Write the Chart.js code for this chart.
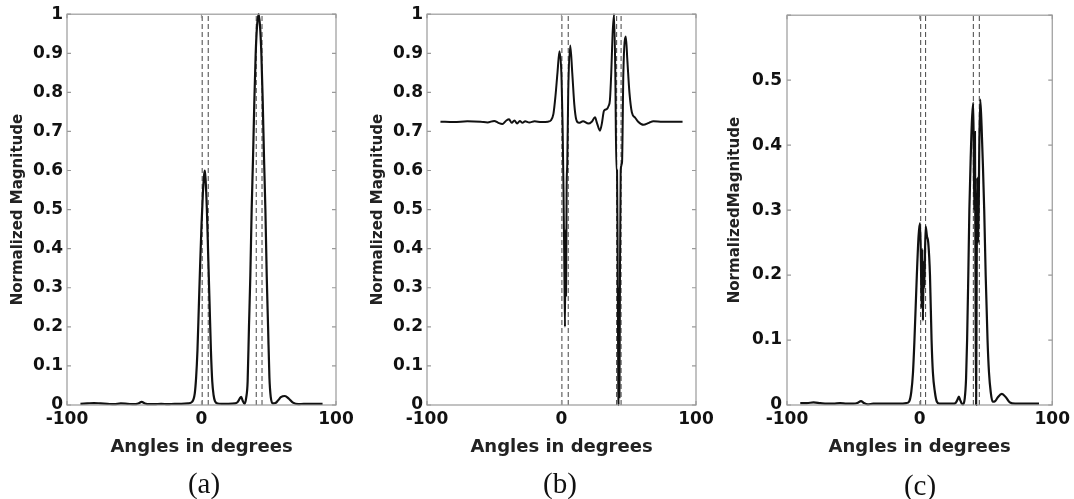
<!DOCTYPE html>
<html>
<head>
<meta charset="utf-8">
<title>Normalized magnitude vs angle</title>
<script src="https://cdn.jsdelivr.net/npm/chart.js@4.4.1/dist/chart.umd.min.js"></script>
<style>
  body { margin: 0; background: #fff; width: 1074px; height: 499px; position: relative; overflow: hidden; }
  canvas { position: absolute; top: 0; }
  .caption { position: absolute; font-family: "Liberation Serif", "Times New Roman", serif; font-size: 29px; color: #111; transform: translate(-50%, -50%); }
</style>
</head>
<body>
<canvas id="chartA" width="360" height="470" style="left:0"></canvas>
<canvas id="chartB" width="360" height="470" style="left:360px"></canvas>
<canvas id="chartC" width="354" height="470" style="left:720px"></canvas>
<div class="caption" style="left:204px;top:483px">(a)</div>
<div class="caption" style="left:560px;top:483px">(b)</div>
<div class="caption" style="left:920px;top:485px">(c)</div>
<script>
// ---- data ----
const xTicks = [-100, 0, 100];

// (a)
const anglesA = [-90, -85, -80, -75, -70, -65, -60, -55, -50, -47, -44.5, -42, -39, -35, -30, -25, -20, -15, -10, -7,
  -5, -4, -3, -2, -1, 0, 1, 2, 2.5, 3, 4, 5, 6, 7, 8, 9, 10, 12, 15, 20, 25, 27, 28.5, 29.5, 30.5, 32,
  33.3, 34.3, 35.3, 36.3, 37.3, 38.3, 39.3, 40.3, 41.3, 42.5, 43.5, 44.5, 45.5, 46.5, 47.5, 48.5, 49.5, 50.5, 51.5, 53,
  55, 57, 59, 62, 65, 68, 72, 76, 80, 85, 90];
const magA = [0.003, 0.004, 0.005, 0.004, 0.003, 0.002, 0.004, 0.003, 0.002, 0.004, 0.008, 0.004, 0.002, 0.002, 0.003, 0.002, 0.003, 0.003, 0.004, 0.008,
  0.03, 0.07, 0.14, 0.25, 0.36, 0.46, 0.54, 0.59, 0.6, 0.58, 0.5, 0.38, 0.26, 0.14, 0.06, 0.025, 0.01, 0.004, 0.003, 0.003, 0.004, 0.008, 0.017, 0.021, 0.012, 0.003,
  0.02, 0.06, 0.2, 0.33, 0.5, 0.63, 0.78, 0.9, 0.97, 1.0, 0.97, 0.9, 0.78, 0.63, 0.5, 0.33, 0.2, 0.07, 0.02, 0.004,
  0.005, 0.012, 0.02, 0.023, 0.016, 0.006, 0.002, 0.003, 0.003, 0.003, 0.003];
const markersA = [0.5, 5, 40.7, 45];

// (b)
const anglesB = [-90, -80, -70, -60, -55, -50, -47, -44, -41, -39, -37, -35, -33, -31, -29, -27, -24, -20, -15, -10, -8,
  -6, -4.5, -3, -1.5, 0, 0.8, 1.5, 2.1, 2.6, 3.0, 3.4, 3.8, 4.3, 5, 6.5, 8, 9.5, 11, 13, 16, 20, 22.5, 24.9, 26.5, 28.6, 30, 31.6, 33.6, 35, 36,
  37, 38, 39.1, 40, 40.8, 41.3, 41.8, 42.2, 42.5, 42.8, 43.1, 43.5, 44, 45, 46, 47.8, 49, 50.5, 52.3, 54.8, 57, 60.9, 65, 68.3, 75, 80, 90];
const magB = [0.725, 0.724, 0.726, 0.725, 0.723, 0.727, 0.722, 0.719, 0.728, 0.731, 0.722, 0.728, 0.72, 0.727, 0.722, 0.726, 0.723, 0.726, 0.724, 0.725, 0.728,
  0.745, 0.79, 0.85, 0.905, 0.84, 0.72, 0.55, 0.35, 0.2, 0.45, 0.28, 0.55, 0.62, 0.8, 0.92, 0.85, 0.77, 0.73, 0.722, 0.726, 0.72, 0.725, 0.736, 0.72, 0.702, 0.72, 0.753, 0.757, 0.765, 0.78,
  0.85, 0.95, 1.0, 0.85, 0.6, 0.6, 0.35, 0.05, 0.0, 0.3, 0.02, 0.35, 0.6, 0.62, 0.85, 0.943, 0.88, 0.8, 0.749, 0.735, 0.725, 0.717, 0.722, 0.726, 0.725, 0.725, 0.725];
const markersB = [0.3, 5, 41, 44.3];

// (c)
const anglesC = [-90, -85, -80, -75, -70, -65, -60, -55, -50, -47, -44.2, -42, -39, -35, -30, -25, -20, -15, -10, -8,
  -6.3, -5, -3.9, -2.1, -0.8, 0.3, 1, 1.5, 2, 2.5, 3, 3.5, 4.5, 5.5, 6.5, 7.8, 9, 10, 11.5, 13, 15, 20, 25, 27, 28.5, 29.6, 30.5, 31.5, 32.6,
  34, 35, 35.8, 36.7, 37.5, 38.5, 39.5, 40.5, 41.2, 41.7, 42.2, 42.6, 43, 43.5, 44.2, 45, 45.7, 46.7, 47.7, 48.7, 49.8, 51.2, 52.3, 53.6, 55,
  57, 59, 62, 65, 68, 72, 76, 80, 85, 90];
const magC = [0.003, 0.003, 0.004, 0.003, 0.002, 0.002, 0.003, 0.002, 0.002, 0.003, 0.006, 0.003, 0.001, 0.002, 0.002, 0.002, 0.002, 0.002, 0.003, 0.005,
  0.02, 0.05, 0.1, 0.2, 0.26, 0.28, 0.22, 0.15, 0.24, 0.13, 0.22, 0.18, 0.275, 0.26, 0.25, 0.2, 0.1, 0.05, 0.02, 0.005, 0.002, 0.002, 0.002, 0.003, 0.008, 0.013, 0.008, 0.003, 0.001,
  0.01, 0.04, 0.1, 0.2, 0.3, 0.38, 0.44, 0.465, 0.3, 0.42, 0.15, 0.0, 0.2, 0.35, 0.25, 0.4, 0.47, 0.43, 0.37, 0.3, 0.2, 0.1, 0.05, 0.02, 0.005,
  0.006, 0.012, 0.017, 0.012, 0.004, 0.002, 0.002, 0.002, 0.002, 0.002];
const markersC = [0.8, 4.5, 40.5, 45];

// ---- drawing ----
const TICK_FONT = { family: 'DejaVu Sans', size: 17, weight: 'bold' };

// MATLAB-style grey box with inward ticks on all four sides
const boxPlugin = {
  id: 'matlabBox',
  afterDatasetsDraw(chart) {
    const { ctx, chartArea: a, scales: { x, y } } = chart;
    ctx.save();
    ctx.strokeStyle = '#9a9a9a';
    ctx.lineWidth = 1.2;
    ctx.strokeRect(a.left, a.top, a.right - a.left, a.bottom - a.top);
    ctx.beginPath();
    y.ticks.forEach(t => {
      const py = y.getPixelForValue(t.value);
      ctx.moveTo(a.left, py); ctx.lineTo(a.left + 4, py);
      ctx.moveTo(a.right, py); ctx.lineTo(a.right - 4, py);
    });
    x.ticks.forEach(t => {
      const px = x.getPixelForValue(t.value);
      ctx.moveTo(px, a.bottom); ctx.lineTo(px, a.bottom - 4);
      ctx.moveTo(px, a.top); ctx.lineTo(px, a.top + 4);
    });
    ctx.stroke();
    ctx.restore();
  }
};

function makePanel(id, angles, mags, markers, yMax, yTitle, opts) {
  const curve = {
    data: angles.map((a, i) => ({ x: a, y: mags[i] })),
    borderColor: '#111',
    borderWidth: opts.lineWidth,
    pointRadius: 0,
    cubicInterpolationMode: 'monotone'
  };
  const dashed = markers.map(m => ({
    data: [{ x: m, y: 0 }, { x: m, y: yMax }],
    borderColor: '#444',
    borderWidth: 1,
    borderDash: [5, 3],
    pointRadius: 0
  }));

  return new Chart(document.getElementById(id), {
    type: 'line',
    data: { datasets: [curve, ...dashed] },
    options: {
      responsive: false,
      animation: false,
      clip: false,
      layout: { padding: { top: 11, right: opts.padRight, left: 0, bottom: 0 } },
      plugins: { legend: { display: false }, tooltip: { enabled: false } },
      scales: {
        x: {
          type: 'linear', min: -100, max: 100,
          afterBuildTicks: s => { s.ticks = xTicks.map(v => ({ value: v })); },
          afterFit: s => { s.height = 65; },
          grid: { display: false, drawTicks: false },
          border: { display: false },
          ticks: { font: TICK_FONT, color: '#111', padding: 4, maxRotation: 0 },
          title: { display: true, text: 'Angles in degrees', color: '#222',
                   font: { family: 'DejaVu Sans', size: 18, weight: 'bold' }, padding: { top: 0, bottom: 12 } }
        },
        y: {
          min: 0, max: yMax,
          afterFit: s => { s.width = 67; },
          grid: { display: false, drawTicks: false },
          border: { display: false },
          ticks: {
            stepSize: 0.1, font: TICK_FONT, color: '#111', padding: opts.labelPad,
            callback: v => {
              const r = Math.round(v * 10) / 10;
              if (opts.hideTop && r === yMax) return '';
              return String(r);
            }
          },
          title: { display: true, text: yTitle, color: '#222',
                   font: { family: 'DejaVu Sans', size: 15, weight: 'bold' }, padding: { top: opts.titlePad, bottom: 0 } }
        }
      }
    },
    plugins: [boxPlugin]
  });
}

makePanel('chartA', anglesA, magA, markersA, 1, 'Normalized Magnitude',
  { lineWidth: 2.2, padRight: 24, labelPad: 4, titlePad: 9, hideTop: false });
makePanel('chartB', anglesB, magB, markersB, 1, 'Normalized Magnitude',
  { lineWidth: 2, padRight: 24, labelPad: 4, titlePad: 9, hideTop: false });
makePanel('chartC', anglesC, magC, markersC, 0.6, 'NormalizedMagnitude',
  { lineWidth: 2.2, padRight: 18, labelPad: 5, titlePad: 6, hideTop: true });
</script>
</body>
</html>
